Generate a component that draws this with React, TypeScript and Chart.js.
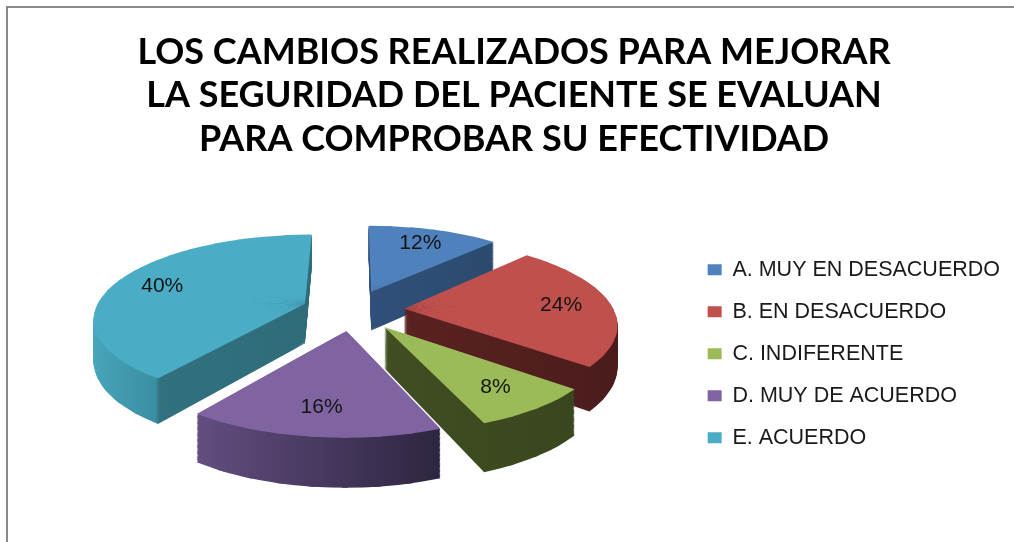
import React, { useEffect, useRef } from "react";
import { Chart, registerables } from "chart.js";

Chart.register(...registerables);

// ---------- data ----------
const categories = [
  "A. MUY EN DESACUERDO",
  "B. EN DESACUERDO",
  "C. INDIFERENTE",
  "D. MUY DE ACUERDO",
  "E. ACUERDO",
];
const values = [12, 24, 8, 16, 40];
const valueLabels = ["12%", "24%", "8%", "16%", "40%"];
const titleLines = [
  "LOS CAMBIOS REALIZADOS PARA MEJORAR",
  "LA SEGURIDAD DEL PACIENTE SE EVALUAN",
  "PARA COMPROBAR SU EFECTIVIDAD",
];

// ---------- styles ----------
const topColors = ["#4F81BD", "#C0504D", "#9BBB59", "#8064A2", "#4BACC6"];
// gradient stops (left -> right across slice) for the extruded walls
const sideStops: [number, string][][] = [
  [[0, "#30507A"], [1, "#2C4A6E"]],
  [[0, "#5A2222"], [1, "#4A1B1B"]],
  [[0, "#404E22"], [1, "#3A461E"]],
  [[0, "#634E80"], [1, "#2D2540"]],
  [[0, "#4AA8BF"], [0.4, "#3A8FA2"], [0.42, "#31717F"], [1, "#2F6C7A"]],
];

// 3D view (perspective of the tilted pie)
const VIEW = {
  cx: 353,
  cy: 310,
  tilt: 0.392,
  dist: 1300,
  thick: 40,
  explode: 51,
  radius: 210,
  labelFrac: 0.76,
  stepDeg: 8,
};

const persp = (Y: number) => VIEW.dist / (VIEW.dist - Y);
// plane point (X right, Y toward viewer) + wall depth t -> screen
const project = (X: number, Y: number, t = 0): [number, number] => {
  const s = persp(Y);
  return [VIEW.cx + X * s, VIEW.cy + VIEW.tilt * Y * s + t * s];
};

// affine transform mapping chart points p[i] -> screen points q[i]
function affine(p: number[][], q: number[][]) {
  const u1x = p[1][0] - p[0][0], u1y = p[1][1] - p[0][1];
  const u2x = p[2][0] - p[0][0], u2y = p[2][1] - p[0][1];
  const v1x = q[1][0] - q[0][0], v1y = q[1][1] - q[0][1];
  const v2x = q[2][0] - q[0][0], v2y = q[2][1] - q[0][1];
  const det = u1x * u2y - u2x * u1y;
  const a = (v1x * u2y - v2x * u1y) / det;
  const c = (-v1x * u2x + v2x * u1x) / det;
  const b = (v1y * u2y - v2y * u1y) / det;
  const d = (-v1y * u2x + v2y * u1x) / det;
  const e = q[0][0] - a * p[0][0] - c * p[0][1];
  const f = q[0][1] - b * p[0][0] - d * p[0][1];
  return [a, b, c, d, e, f];
}

function xExtent(a: any, R: number): [number, number] {
  const xs = [0, Math.cos(a.startAngle) * R, Math.cos(a.endAngle) * R];
  for (let k = -4; k <= 4; k++) {
    const ang = k * Math.PI;
    if (ang > a.startAngle && ang < a.endAngle) xs.push(Math.cos(ang) * R);
  }
  return [Math.min(...xs), Math.max(...xs)];
}

const pie3d = {
  id: "pie3d",
  beforeDatasetsDraw(chart: any) {
    const meta = chart.getDatasetMeta(0);
    const arcs = meta.data as any[];
    if (!arcs.length) return;
    const ctx: CanvasRenderingContext2D = chart.ctx;
    const ox = arcs[0].x;
    const oy = arcs[0].y;
    const E = VIEW.explode;

    const info = arcs.map((a, i) => {
      const m = (a.startAngle + a.endAngle) / 2;
      const ux = Math.cos(m);
      const uy = Math.sin(m);
      const th = a.endAngle - a.startAngle;
      const R = a.outerRadius;
      const cd = (4 * R * Math.sin(th / 2)) / (3 * th);
      return { i, a, ux, uy, R, Y0: (E + cd) * uy };
    });
    const order = [...info].sort((p, q) => p.Y0 - q.Y0);
    const step = (VIEW.stepDeg * Math.PI) / 180;
    const eps = 0.012;

    for (const it of order) {
      const a = it.a;
      const R = it.R;
      const ax = E * it.ux;
      const ay = E * it.uy;
      const n = Math.max(1, Math.ceil((a.endAngle - a.startAngle) / step));
      const dA = (a.endAngle - a.startAngle) / n;
      const subs: { p: number[][]; plane: number[][]; f0: number; f1: number }[] = [];
      for (let j = 0; j < n; j++) {
        const f0 = a.startAngle + j * dA;
        const f1 = f0 + dA;
        const p = [
          [ox, oy],
          [ox + R * Math.cos(f0), oy + R * Math.sin(f0)],
          [ox + R * Math.cos(f1), oy + R * Math.sin(f1)],
        ];
        const plane = p.map(([x, y]) => [x - ox + ax, y - oy + ay]);
        subs.push({ p, plane, f0, f1 });
      }
      const [x0, x1] = xExtent(a, R);
      const grad = ctx.createLinearGradient(ox + x0, 0, ox + x1, 0);
      for (const [o, c] of sideStops[it.i]) grad.addColorStop(o, c);
      const clone = Object.assign(Object.create(Object.getPrototypeOf(a)), a);
      clone.options = { ...a.options, backgroundColor: grad, borderWidth: 0 };

      for (let t = VIEW.thick; t >= 0; t -= 1) {
        const el = t === 0 ? a : clone;
        for (const sw of subs) {
          const q = sw.plane.map(([X, Y]) => project(X, Y, t));
          const [ta, tb, tc, td, te, tf] = affine(sw.p, q);
          ctx.save();
          ctx.transform(ta, tb, tc, td, te, tf);
          ctx.beginPath();
          ctx.moveTo(ox, oy);
          ctx.arc(ox, oy, R + 8, sw.f0 - eps, sw.f1 + eps);
          ctx.closePath();
          ctx.clip();
          el.draw(ctx);
          ctx.restore();
        }
      }
    }

    // percentage labels
    ctx.save();
    ctx.font = "21px 'Liberation Sans', Arial, sans-serif";
    ctx.fillStyle = "#141414";
    ctx.textAlign = "center";
    ctx.textBaseline = "middle";
    for (const it of info) {
      const r = E + it.R * VIEW.labelFrac;
      const [x, y] = project(r * it.ux, r * it.uy);
      ctx.fillText(valueLabels[it.i], x, y);
    }
    ctx.restore();
    return false;
  },
};

export default function App() {
  const ref = useRef<HTMLCanvasElement | null>(null);
  useEffect(() => {
    if (!ref.current) return;
    const chart = new Chart(ref.current, {
      type: "pie",
      data: {
        labels: categories,
        datasets: [
          {
            data: values,
            backgroundColor: topColors,
            borderWidth: 0,
            radius: VIEW.radius,
            clip: false,
          } as any,
        ],
      },
      options: {
        animation: false,
        responsive: false,
        maintainAspectRatio: false,
        events: [],
        layout: { padding: { top: 0, right: 4, bottom: 2, left: 18 } },
        plugins: {
          title: {
            display: true,
            text: titleLines,
            color: "#000",
            font: { family: "Lato, sans-serif", size: 36, weight: "bold", lineHeight: 1.2 },
            padding: { top: 31, bottom: 7 },
          },
          legend: {
            position: "right",
            fullSize: false,
            align: "center",
            labels: {
              boxWidth: 14,
              boxHeight: 11,
              padding: 20.5,
              color: "#1a1a1a",
              font: { family: "'Liberation Sans', Arial, sans-serif", size: 21.5 },
            },
          },
          tooltip: { enabled: false },
        },
      } as any,
      plugins: [pie3d as any],
    });
    return () => chart.destroy();
  }, []);

  return (
    <div
      style={{
        position: "fixed",
        left: 0,
        top: 0,
        width: 1014,
        height: 542,
        overflow: "hidden",
        background: "#fff",
      }}
    >
      <div
        style={{
          position: "absolute",
          left: 6,
          top: 6,
          width: 1100,
          height: 600,
          borderTop: "2px solid #8a8a8a",
          borderLeft: "2px solid #8a8a8a",
        }}
      />
      <canvas
        ref={ref}
        width={1014}
        height={542}
        style={{ position: "absolute", left: 0, top: 0, width: 1014, height: 542 }}
      />
    </div>
  );
}
